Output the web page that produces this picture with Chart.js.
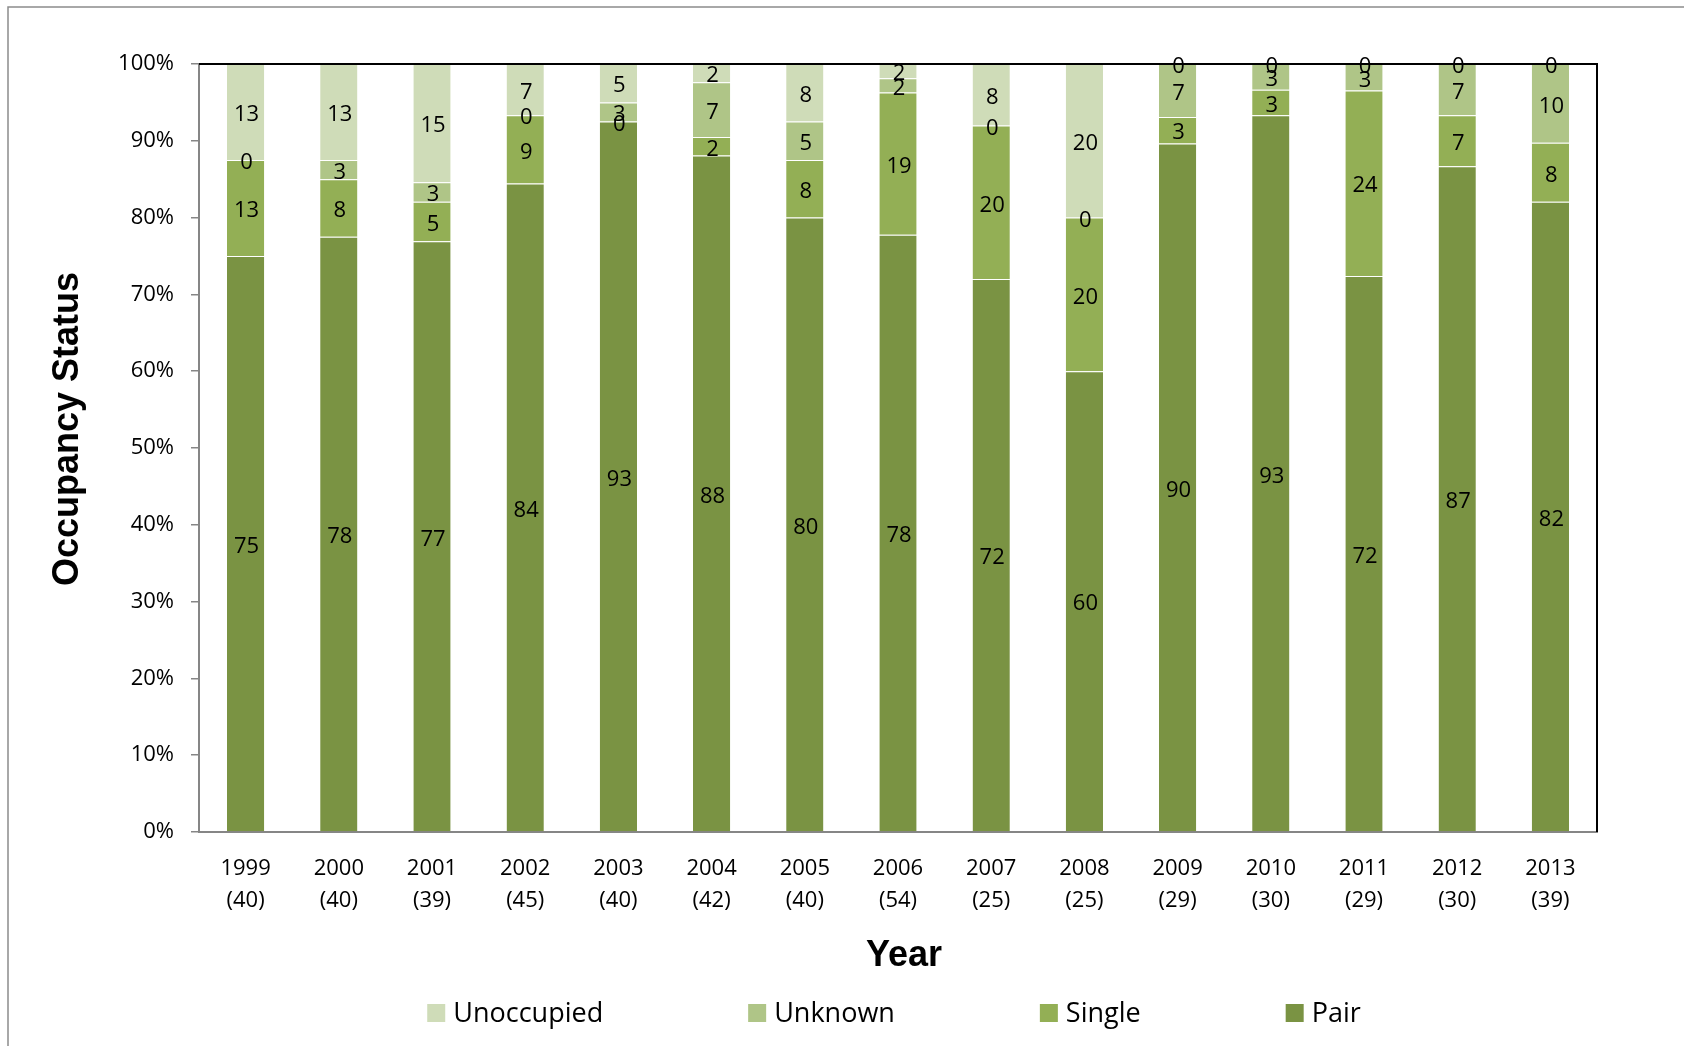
<!DOCTYPE html>
<html>
<head>
<meta charset="utf-8">
<script src="https://cdn.jsdelivr.net/npm/chart.js@4"></script>
<style>
html,body{margin:0;padding:0;background:#fff;}
canvas{display:block;}
</style>
</head>
<body>
<canvas id="c" width="1684" height="1046"></canvas>
<script>
// ---- Data (percent of territories per year) ----
const years       = ['1999','2000','2001','2002','2003','2004','2005','2006','2007','2008','2009','2010','2011','2012','2013'];
const sampleSizes = ['(40)','(40)','(39)','(45)','(40)','(42)','(40)','(54)','(25)','(25)','(29)','(30)','(29)','(30)','(39)'];
const pair       = [75, 77.5, 76.92, 84.44, 92.5, 88.1, 80, 77.78, 72, 60, 89.66, 93.33, 72.41, 86.67, 82.05];
const single     = [12.5, 7.5, 5.13, 8.89, 0, 2.38, 7.5, 18.52, 20, 20, 3.45, 3.33, 24.14, 6.67, 7.69];
const unknown    = [0, 2.5, 2.56, 0, 2.5, 7.14, 5, 1.85, 0, 0, 6.9, 3.33, 3.45, 6.67, 10.26];
const unoccupied = [12.5, 12.5, 15.38, 6.67, 5, 2.38, 7.5, 1.85, 8, 20, 0, 0, 0, 0, 0];
const yTicks     = [0,10,20,30,40,50,60,70,80,90,100];
const legendOrder = ['Unoccupied','Unknown','Single','Pair'];

const COLORS = {
  Pair: '#7a9343',
  Single: '#93af55',
  Unknown: '#afc587',
  Unoccupied: '#cfdcb8'
};
const FONT = '"Open Sans", "DejaVu Sans", sans-serif';
const TITLE_FONT = '"Liberation Sans", Arial, sans-serif';

const labels = years.map((y, i) => [y, sampleSizes[i]]);

function ds(name, data) {
  return {
    label: name,
    data: data,
    backgroundColor: COLORS[name],
    borderColor: 'rgba(255,255,255,0.3)',
    borderWidth: {top: 1, left: 0, right: 0, bottom: 0},
    borderSkipped: false,
    barPercentage: 0.4,
    categoryPercentage: 1.0,
    stack: 's'
  };
}

const decorPlugin = {
  id: 'decor',
  beforeDraw(chart) {
    const ctx = chart.ctx;
    ctx.save();
    ctx.fillStyle = '#fff';
    ctx.fillRect(0, 0, chart.width, chart.height);
    // outer frame (left & top visible)
    ctx.strokeStyle = '#8c8c8c';
    ctx.lineWidth = 1.5;
    ctx.beginPath();
    ctx.moveTo(8, chart.height + 2);
    ctx.lineTo(8, 7);
    ctx.lineTo(chart.width + 2, 7);
    ctx.stroke();
    ctx.restore();
  },
  afterDatasetsDraw(chart) {
    const ctx = chart.ctx;
    const {left, top, right, bottom} = chart.chartArea;
    ctx.save();
    // plot border top/right
    ctx.strokeStyle = '#000';
    ctx.lineWidth = 2;
    ctx.beginPath();
    ctx.moveTo(left, top);
    ctx.lineTo(right, top);
    ctx.lineTo(right, bottom);
    ctx.stroke();
    // data labels
    ctx.font = '22px ' + FONT;
    ctx.fillStyle = '#000';
    ctx.textAlign = 'center';
    ctx.textBaseline = 'middle';
    chart.data.datasets.forEach((d, i) => {
      const meta = chart.getDatasetMeta(i);
      meta.data.forEach((bar, j) => {
        const p = bar.getProps(['x', 'y', 'base'], true);
        ctx.fillText(String(Math.round(d.data[j])), p.x + 1, (p.y + p.base) / 2 + 3);
      });
    });
    ctx.restore();
  },
  afterDraw(chart) {
    const ctx = chart.ctx;
    const {left, top, right, bottom} = chart.chartArea;
    ctx.save();
    ctx.fillStyle = '#000';
    // y title
    ctx.font = 'bold 36px ' + TITLE_FONT;
    ctx.textAlign = 'center';
    ctx.textBaseline = 'middle';
    ctx.translate(68, (top + bottom) / 2 - 19);
    ctx.rotate(-Math.PI / 2);
    ctx.fillText('Occupancy Status', 0, 0);
    ctx.restore();
    ctx.save();
    ctx.fillStyle = '#000';
    ctx.font = 'bold 36px ' + TITLE_FONT;
    ctx.textAlign = 'center';
    ctx.textBaseline = 'middle';
    ctx.fillText('Year', (left + right) / 2 + 6, 956);
    // legend
    ctx.font = '27px ' + FONT;
    const box = 18, gap = 8, spacing = 145;
    const widths = legendOrder.map(n => box + gap + ctx.measureText(n).width);
    const total = widths.reduce((a, b) => a + b, 0) + spacing * (legendOrder.length - 1);
    let x = (left + right) / 2 - 4 - total / 2;
    const cy = 1013;
    ctx.textAlign = 'left';
    legendOrder.forEach((n, i) => {
      ctx.fillStyle = COLORS[n];
      ctx.fillRect(x, cy - box / 2, box, box);
      ctx.fillStyle = '#000';
      ctx.fillText(n, x + box + gap, cy + 1);
      x += widths[i] + spacing;
    });
    ctx.restore();
  }
};

function build() {
  new Chart(document.getElementById('c'), {
    type: 'bar',
    data: {
      labels: labels,
      datasets: [
        ds('Pair', pair),
        ds('Single', single),
        ds('Unknown', unknown),
        ds('Unoccupied', unoccupied)
      ]
    },
    options: {
      responsive: false,
      animation: false,
      devicePixelRatio: 1,
      layout: {padding: {left: 0, right: 87, top: 64, bottom: 0}},
      plugins: {
        legend: {display: false},
        tooltip: {enabled: false},
        title: {display: false}
      },
      scales: {
        x: {
          stacked: true,
          grid: {display: false, drawTicks: false},
          border: {display: true, color: '#868686', width: 2},
          ticks: {
            color: '#000',
            font: {family: FONT, size: 22, lineHeight: '32px'},
            padding: 21,
            maxRotation: 0,
            autoSkip: false
          },
          afterFit(scale) { scale.height = 214; }
        },
        y: {
          stacked: true,
          min: 0,
          max: 100,
          afterBuildTicks(scale) { scale.ticks = yTicks.map(v => ({value: v})); },
          grid: {drawOnChartArea: false, drawTicks: true, tickLength: 8, color: '#868686', lineWidth: 1.5},
          border: {display: true, color: '#868686', width: 2},
          ticks: {
            color: '#000',
            font: {family: FONT, size: 22},
            padding: 17,
            callback: v => v + '%'
          },
          afterFit(scale) { scale.width = 199; }
        }
      }
    },
    plugins: [decorPlugin]
  });
}

if (document.fonts && document.fonts.load) {
  Promise.all([
    document.fonts.load('22px "Open Sans"'),
    document.fonts.load('bold 36px "Liberation Sans"')
  ]).then(build, build);
} else {
  build();
}
</script>
</body>
</html>
